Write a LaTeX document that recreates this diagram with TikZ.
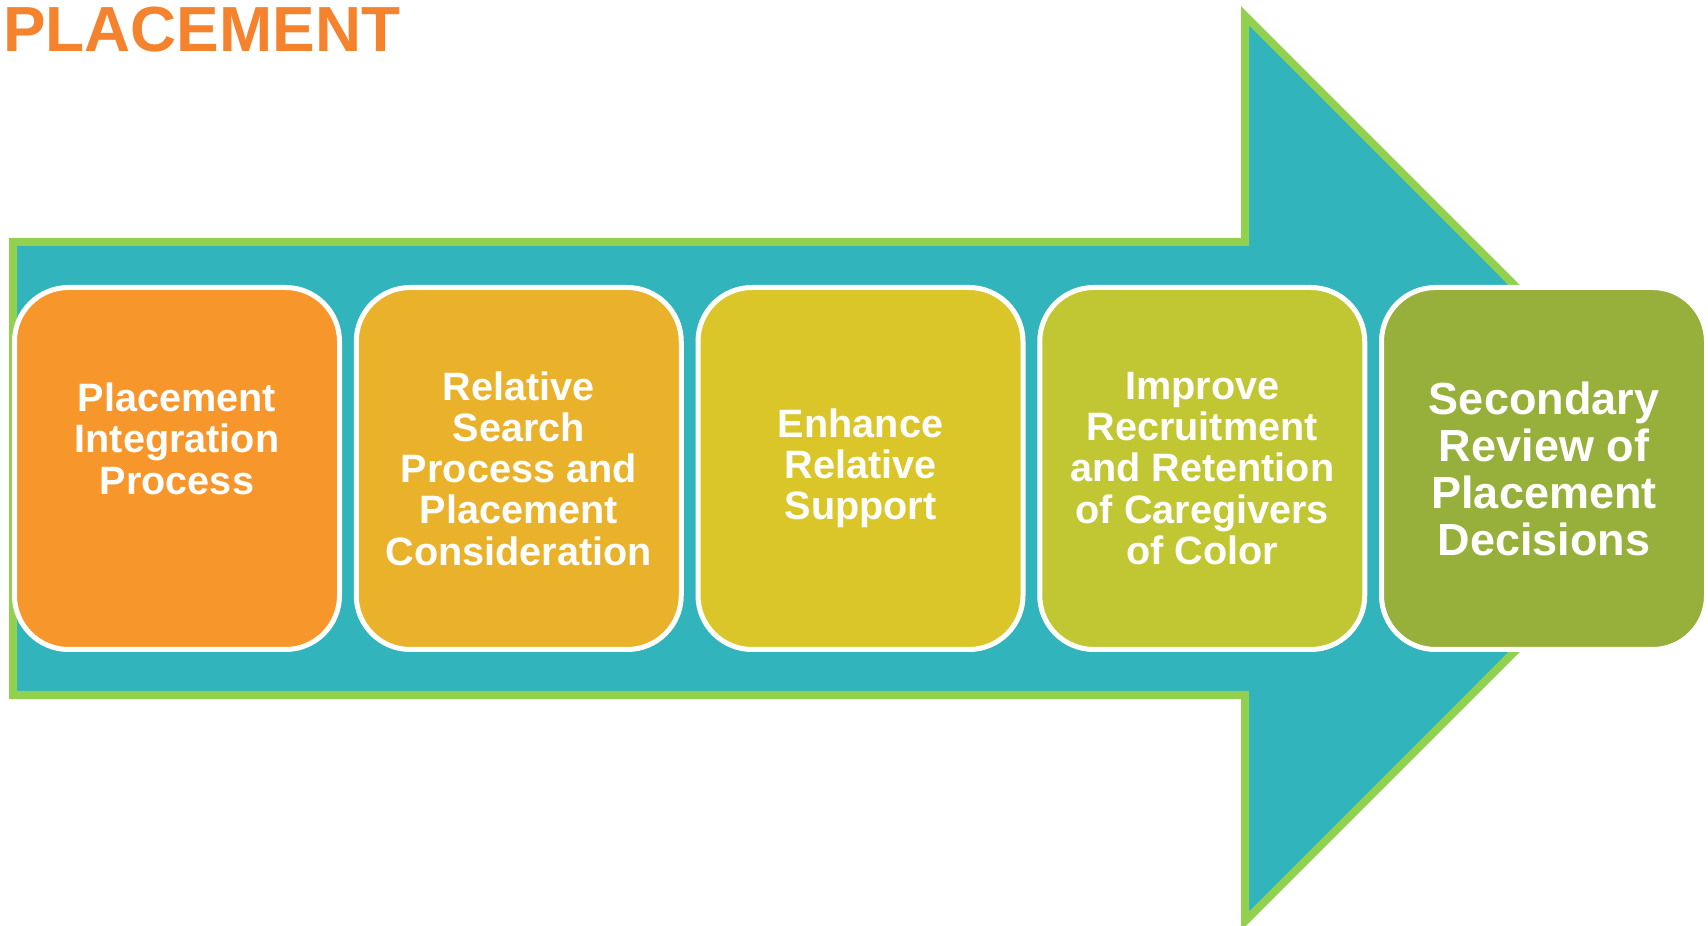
\documentclass[tikz,border=0pt]{standalone}
\usepackage{fontspec}
\setmainfont{Liberation Sans}
\usetikzlibrary{positioning}

\definecolor{arrowteal}{HTML}{31B4BB}
\definecolor{arrowgreen}{HTML}{92D050}
\definecolor{titleorange}{HTML}{F5822D}
\definecolor{stageA}{HTML}{F7962A}
\definecolor{stageB}{HTML}{EAB12A}
\definecolor{stageC}{HTML}{DAC628}
\definecolor{stageD}{HTML}{C1C732}
\definecolor{stageE}{HTML}{97AF3B}

\begin{document}
\begin{tikzpicture}[
    x=1pt, y=1pt,
    node distance=16.75pt,
    stage/.style={rectangle, draw=white, line width=5pt, rounded corners=54pt, minimum width=325pt, minimum height=362pt, outer sep=0pt, inner sep=0pt, align=center, text=white, font=\fontsize{39.6}{41.25}\selectfont\bfseries},
    flow/.style={draw=arrowgreen, fill=arrowteal, line width=8pt, miter limit=10}
]
    \useasboundingbox (0,0) rectangle (1708,926);

    % Title
    \node (title) [anchor=base west, inner sep=0pt, text=titleorange, font=\fontsize{63.8}{70}\selectfont\bfseries] at (3,874) {PLACEMENT};

    % Arrow behind the stages
    \draw [flow] (13,684) -- (1245,684) -- (1245,910.3) -- (1697.5,457.5) -- (1245,4.7) -- (1245,231) -- (13,231) -- cycle;

    % Nodes
    \node (integ) [stage, fill=stageA, text depth=60pt] at (177,457.5) {Placement\\Integration\\Process};
    \node (search) [stage, fill=stageB, right=of integ] {Relative\\Search\\Process and\\Placement\\Consideration};
    \node (support) [stage, fill=stageC, right=of search] {Enhance\\Relative\\Support};
    \node (recruit) [stage, fill=stageD, right=of support] {Improve\\Recruitment\\and Retention\\of Caregivers\\of Color};
    \node (review) [stage, fill=stageE, right=of recruit, font=\fontsize{45}{47}\selectfont\bfseries] {Secondary\\Review of\\Placement\\Decisions};
\end{tikzpicture}
\end{document}
